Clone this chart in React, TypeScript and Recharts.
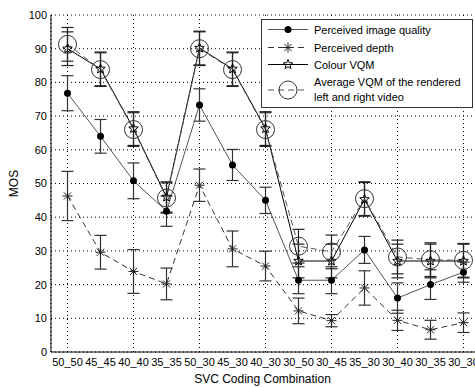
import React from 'react';
import { LineChart, Line, XAxis, YAxis, CartesianGrid, ErrorBar } from 'recharts';

const categories = ['50_50', '45_45', '40_40', '35_35', '50_30', '45_30', '40_30', '30_50', '30_45', '35_30', '30_40', '30_35', '30_30'];
const imageQuality = [76.8, 64, 50.8, 41.8, 73.3, 55.5, 45, 21.3, 21.3, 30.3, 16, 20, 23.7];
const imageQualityErr = [5.2, 5, 5.3, 4.5, 4.8, 4.6, 3.9, 4, 4, 4, 4.5, 4.4, 3];
const depth = [46.3, 29.6, 23.9, 20.2, 49.5, 30.6, 25.5, 12.2, 9.3, 19, 9.4, 6.6, 8.7];
const depthErr = [7.3, 5, 6.5, 4.7, 4.8, 5.3, 4.4, 3.8, 1.8, 5.1, 3, 2.8, 2.9];
const colourVqm = [90, 84, 66.3, 46, 90.2, 84, 66.3, 27, 27, 45.3, 27, 27, 27];
const colourVqmErr = [5, 5, 5, 4.5, 5, 5, 5, 5, 5, 5, 5, 5, 5];
const averageVqm = [91.3, 83.8, 66, 45.7, 90, 83.8, 66, 31.4, 29.7, 45.5, 28.2, 27.4, 27.2];
const averageVqmErr = [5, 5, 5, 4.5, 5, 5, 5, 5, 5, 5, 5, 5, 5];
const yTicks = [0, 10, 20, 30, 40, 50, 60, 70, 80, 90, 100];

const data = categories.map((c, i) => ({
  x: i + 1,
  iq: imageQuality[i],
  iqErr: imageQualityErr[i],
  depth: depth[i],
  depthErr: depthErr[i],
  vqm: colourVqm[i],
  vqmErr: colourVqmErr[i],
  avg: averageVqm[i],
  avgErr: averageVqmErr[i],
}));

const font = 'Arial, "Liberation Sans", sans-serif';

const Dot = ({ cx, cy }: any) => <circle cx={cx} cy={cy} r={3.5} fill="#000" />;

const Asterisk = ({ cx, cy }: any) => {
  const r = 5;
  const d = r * 0.72;
  return (
    <g stroke="#222" strokeWidth={1}>
      <line x1={cx - r} y1={cy} x2={cx + r} y2={cy} />
      <line x1={cx} y1={cy - r} x2={cx} y2={cy + r} />
      <line x1={cx - d} y1={cy - d} x2={cx + d} y2={cy + d} />
      <line x1={cx - d} y1={cy + d} x2={cx + d} y2={cy - d} />
    </g>
  );
};

const Pentagram = ({ cx, cy }: any) => {
  const pts: string[] = [];
  for (let k = 0; k < 10; k++) {
    const r = k % 2 === 0 ? 5 : 2.2;
    const a = -Math.PI / 2 + (k * Math.PI) / 5;
    pts.push(`${cx + r * Math.cos(a)},${cy + r * Math.sin(a)}`);
  }
  return <polygon points={pts.join(' ')} fill="none" stroke="#000" strokeWidth={1} />;
};

const Ring = ({ cx, cy }: any) => <circle cx={cx} cy={cy} r={9} fill="none" stroke="#333" strokeWidth={1} />;

const LegendBox = () => (
  <svg width={475} height={387} style={{ position: 'absolute', left: 0, top: 0, pointerEvents: 'none' }}>
    <rect x={261.5} y={19.5} width={211} height={88} fill="#fff" stroke="#333" strokeWidth={1} />
    <g fontFamily={font} fontSize={11} fill="#000">
      <line x1={268} y1={29.5} x2={308} y2={29.5} stroke="#555" strokeWidth={1} />
      <Dot cx={288} cy={29.5} />
      <text x={314} y={33.5}>Perceived image quality</text>

      <line x1={268} y1={47.5} x2={308} y2={47.5} stroke="#333" strokeWidth={1} strokeDasharray="6 4" />
      <Asterisk cx={288} cy={47.5} />
      <text x={314} y={51.5}>Perceived depth</text>

      <line x1={268} y1={64.5} x2={308} y2={64.5} stroke="#000" strokeWidth={1} />
      <Pentagram cx={288} cy={64.5} />
      <text x={314} y={68.5}>Colour VQM</text>

      <line x1={268} y1={90} x2={308} y2={90} stroke="#555" strokeWidth={1} strokeDasharray="6 4" />
      <Ring cx={288} cy={90} />
      <text x={314} y={86}>Average VQM of the rendered</text>
      <text x={314} y={100.5}>left and right video</text>
    </g>
  </svg>
);

export default function App() {
  return (
    <div style={{ position: 'absolute', left: 0, top: 0, width: 475, height: 387, overflow: 'hidden', background: '#fff' }}>
      <LineChart width={481} height={387} data={data} margin={{ top: 15, right: 1, left: 0, bottom: 0 }}>
        <CartesianGrid stroke="#000" strokeDasharray="1 3" />
        <XAxis
          type="number"
          dataKey="x"
          domain={[0.5, 13.5]}
          ticks={data.map((d) => d.x)}
          tickFormatter={(v: number) => categories[v - 1] ?? ''}
          height={35}
          stroke="#000"
          tickSize={0}
          tickMargin={6}
          tick={{ fill: '#000', fontSize: 11, fontFamily: font }}
          label={{ value: 'SVC Coding Combination', position: 'insideBottom', offset: 4, dx: -3, fill: '#000', fontSize: 12, fontFamily: font }}
        />
        <YAxis
          type="number"
          domain={[0, 100]}
          ticks={yTicks}
          width={51}
          stroke="#000"
          tickSize={0}
          tickMargin={4}
          tick={{ fill: '#000', fontSize: 11, fontFamily: font }}
          label={{
            content: (p: any) => {
              const vb = p.viewBox || { x: 0, y: 15, height: 337 };
              const x = vb.x + 18;
              const y = vb.y + vb.height / 2;
              return (
                <text x={x} y={y} transform={`rotate(-90 ${x} ${y})`} textAnchor="middle" fontSize={12} fontFamily={font} fill="#000">
                  MOS
                </text>
              );
            },
          }}
        />
        <Line
          dataKey="iq"
          stroke="#555"
          strokeWidth={1}
          isAnimationActive={false}
          activeDot={false}
          dot={(p: any) => <Dot key={`iq${p.index}`} cx={p.cx} cy={p.cy} />}
        >
          <ErrorBar dataKey="iqErr" width={6} stroke="#333" strokeWidth={1.2} direction="y" />
        </Line>
        <Line
          dataKey="depth"
          stroke="#333"
          strokeWidth={1}
          strokeDasharray="6 4"
          isAnimationActive={false}
          activeDot={false}
          dot={(p: any) => <Asterisk key={`d${p.index}`} cx={p.cx} cy={p.cy} />}
        >
          <ErrorBar dataKey="depthErr" width={6} stroke="#333" strokeWidth={1.2} direction="y" />
        </Line>
        <Line
          dataKey="vqm"
          stroke="#000"
          strokeWidth={1}
          isAnimationActive={false}
          activeDot={false}
          dot={(p: any) => <Pentagram key={`v${p.index}`} cx={p.cx} cy={p.cy} />}
        >
          <ErrorBar dataKey="vqmErr" width={6} stroke="#222" strokeWidth={1.2} direction="y" />
        </Line>
        <Line
          dataKey="avg"
          stroke="#555"
          strokeWidth={1}
          strokeDasharray="6 4"
          isAnimationActive={false}
          activeDot={false}
          dot={(p: any) => <Ring key={`a${p.index}`} cx={p.cx} cy={p.cy} />}
        >
          <ErrorBar dataKey="avgErr" width={6} stroke="#222" strokeWidth={1.2} direction="y" />
        </Line>
      </LineChart>
      <LegendBox />
    </div>
  );
}
